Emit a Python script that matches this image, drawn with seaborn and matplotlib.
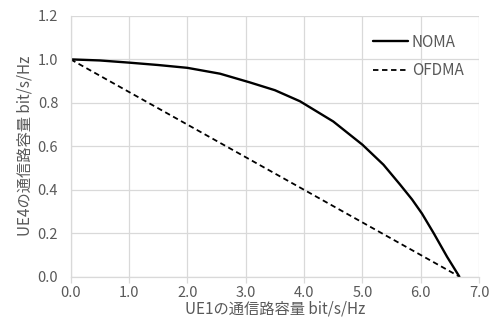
import matplotlib
matplotlib.use("Agg")
import matplotlib.pyplot as plt
import seaborn as sns
import pandas as pd

noma_x = [0.0, 0.5, 1.0, 1.5, 2.0, 2.56, 3.07, 3.5, 3.93, 4.5, 5.0, 5.36, 5.64, 5.85, 6.02, 6.22, 6.45, 6.66]
noma_y = [1.0, 0.995, 0.985, 0.974, 0.961, 0.934, 0.894, 0.858, 0.807, 0.714, 0.607, 0.515, 0.425, 0.355, 0.29, 0.20, 0.091, 0.0]
ofdma_x = [0.0, 6.66]
ofdma_y = [1.0, 0.0]
xticks = [0, 1, 2, 3, 4, 5, 6, 7]
yticks = [0.0, 0.2, 0.4, 0.6, 0.8, 1.0, 1.2]

sns.set_theme(style="white")
plt.rcParams['font.family'] = ['Noto Sans CJK JP', 'DejaVu Sans']
gray = "#595959"
grid = "#d9d9d9"

fig, ax = plt.subplots(figsize=(4.94, 3.25), dpi=100)
fig.subplots_adjust(left=0.143, right=0.97, top=0.951, bottom=0.149)

df_n = pd.DataFrame({"x": noma_x, "y": noma_y})
df_o = pd.DataFrame({"x": ofdma_x, "y": ofdma_y})
sns.lineplot(data=df_n, x="x", y="y", ax=ax, color="black", lw=1.7, label="NOMA", sort=False)
sns.lineplot(data=df_o, x="x", y="y", ax=ax, color="black", lw=1.3, ls=(0, (3, 2)), label="OFDMA", sort=False)

ax.set_xlim(0, 7)
ax.set_ylim(0, 1.2)
ax.set_xticks(xticks)
ax.set_xticklabels([f"{v:.1f}" for v in xticks])
ax.set_yticks(yticks)
ax.set_yticklabels([f"{v:.1f}" for v in yticks])
ax.grid(True, color=grid, lw=0.9)
ax.set_axisbelow(True)
for s in ["top", "right"]:
    ax.spines[s].set_visible(False)
for s in ["left", "bottom"]:
    ax.spines[s].set_color(grid)
    ax.spines[s].set_linewidth(0.9)
ax.tick_params(axis="x", colors=gray, labelsize=10.5, length=4, width=0.9, color=grid, direction="out", bottom=True, pad=3)
ax.tick_params(axis="y", colors=gray, labelsize=10.5, length=0, pad=9)
ax.set_xlabel("UE1の通信路容量 bit/s/Hz", color=gray, fontsize=11, labelpad=0)
ax.set_ylabel("UE4の通信路容量 bit/s/Hz", color=gray, fontsize=11, labelpad=3)

leg = ax.legend(loc="upper right", bbox_to_anchor=(0.995, 0.985), frameon=False, fontsize=11,
                handlelength=2.3, handletextpad=0.25, labelspacing=0.75, labelcolor=gray)

fig.savefig("out.png", dpi=100)
